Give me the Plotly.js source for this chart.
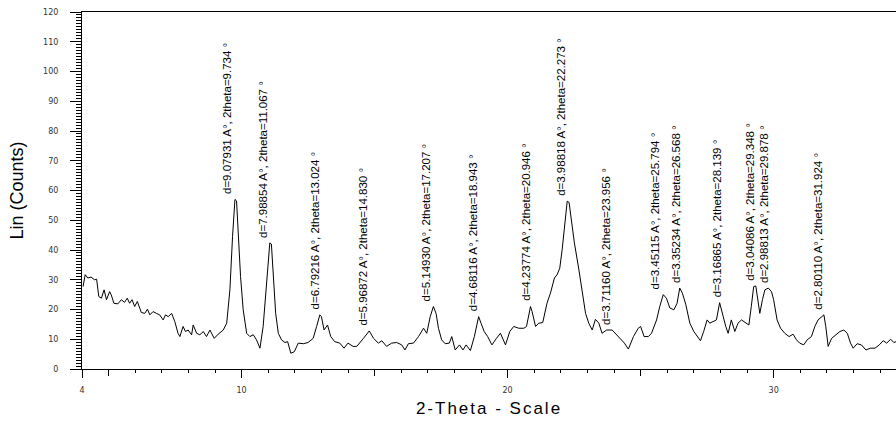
<!DOCTYPE html>
<html>
<head>
<meta charset="utf-8">
<script src="https://cdn.plot.ly/plotly-3.0.1.min.js"></script>
<style>
html,body{margin:0;padding:0;background:#fff;}
#chart{width:896px;height:421px;}
.xtitle{letter-spacing:2px;}
</style>
</head>
<body>
<div id="chart"></div>
<script>
// 2-Theta (degrees)
const theta = [4.04,4.12,4.22,4.34,4.47,4.55,4.63,4.73,4.83,4.92,5.04,5.1,5.2,5.35,5.48,5.6,5.7,5.79,5.88,5.98,6.08,6.23,6.36,6.46,6.55,6.67,6.8,6.92,7.05,7.14,7.24,7.37,7.49,7.61,7.68,7.8,7.89,7.99,8.12,8.18,8.31,8.43,8.56,8.68,8.81,8.97,9.12,9.31,9.44,9.56,9.66,9.75,9.81,9.87,9.96,10.06,10.19,10.31,10.44,10.56,10.69,10.81,10.94,11.06,11.12,11.19,11.28,11.38,11.5,11.63,11.73,11.85,11.98,12.13,12.32,12.5,12.69,12.82,12.94,13.0,13.1,13.23,13.35,13.5,13.69,13.85,14.0,14.19,14.33,14.58,14.8,14.96,15.14,15.27,15.45,15.64,15.83,16.02,16.14,16.27,16.46,16.65,16.84,16.96,17.09,17.21,17.31,17.4,17.52,17.65,17.81,17.9,18.03,18.19,18.32,18.44,18.6,18.75,18.91,19.0,19.12,19.25,19.41,19.58,19.73,19.92,20.08,20.23,20.42,20.61,20.71,20.86,20.92,21.05,21.17,21.32,21.48,21.61,21.76,21.86,21.96,22.05,22.14,22.24,22.31,22.4,22.51,22.68,22.8,22.93,23.05,23.18,23.3,23.43,23.55,23.72,23.93,24.05,24.24,24.39,24.54,24.73,24.91,25.0,25.13,25.29,25.41,25.6,25.72,25.85,25.97,26.1,26.25,26.37,26.47,26.57,26.7,26.85,27.0,27.12,27.25,27.37,27.5,27.6,27.72,27.85,27.97,28.07,28.2,28.29,28.41,28.54,28.66,28.79,28.95,29.07,29.16,29.25,29.33,29.41,29.48,29.58,29.67,29.8,29.92,30.0,30.13,30.26,30.42,30.58,30.73,30.86,30.98,31.13,31.26,31.42,31.55,31.67,31.8,31.89,31.96,32.05,32.18,32.34,32.49,32.64,32.77,32.89,32.99,33.14,33.3,33.47,33.64,33.81,33.97,34.12,34.25,34.4,34.52,34.6];
// Lin (Counts)
const counts = [27.7,31.7,30.6,30.9,30.0,30.2,24.4,23.8,26.6,23.3,26.0,24.9,22.1,21.9,23.3,22.4,23.8,22.1,23.3,21.0,22.7,19.0,18.7,20.1,18.2,19.3,18.7,18.2,16.5,18.2,17.6,18.7,15.9,12.0,10.9,14.3,12.6,13.1,11.5,14.8,12.0,11.5,12.6,10.9,13.1,10.3,11.7,13.1,15.4,26.6,44.6,57.0,56.5,46.9,31.1,19.9,12.0,10.9,11.5,9.8,7.0,14.3,27.7,42.4,42.0,30.0,18.7,12.0,9.8,8.9,9.2,5.3,5.8,8.7,8.5,8.9,10.3,14.3,18.2,17.6,13.1,14.8,10.9,9.2,8.7,7.0,8.7,7.6,7.6,10.3,12.8,10.3,8.7,9.5,7.6,8.7,8.9,8.1,6.4,8.5,8.7,10.9,13.7,12.0,17.6,21.0,18.7,13.7,9.8,8.5,8.7,10.9,6.4,8.1,6.4,8.1,6.2,10.9,17.6,15.4,12.6,10.9,8.1,10.3,12.0,8.1,12.6,14.3,13.7,13.7,14.3,21.0,19.3,14.3,15.4,15.6,22.1,25.5,30.6,31.7,33.9,40.1,49.1,56.4,56.0,50.2,42.4,33.3,26.6,18.7,15.4,13.1,16.7,15.4,12.0,13.1,13.1,12.0,10.3,8.7,6.7,10.9,13.7,14.3,10.9,10.9,12.0,16.5,21.0,25.0,23.8,20.5,19.9,22.1,27.2,25.5,21.6,15.4,12.6,10.9,9.5,12.6,16.5,15.4,16.0,16.5,22.3,18.7,14.3,12.0,16.5,12.6,15.4,16.5,15.4,14.8,21.0,27.7,27.9,23.3,18.7,23.3,26.6,27.2,26.0,23.3,16.5,13.7,12.0,10.9,11.7,9.8,8.7,8.1,9.8,10.9,14.3,16.5,17.6,18.2,14.3,7.6,10.3,11.5,12.6,13.1,12.0,8.7,7.0,8.5,8.1,6.4,7.0,7.0,8.1,9.5,8.7,10.0,8.9,9.2];
// peak labels
const peakTheta = ["9.734","11.067","13.024","14.830","17.207","18.943","20.946","22.273","23.956","25.794","26.568","28.139","29.348","29.878","31.924"];
const peakD = ["9.07931","7.98854","6.79216","5.96872","5.14930","4.68116","4.23774","3.98818","3.71160","3.45115","3.35234","3.16865","3.04086","2.98813","2.80110"];
const xTickVals = [4,10,20,30];

function localMax(t){
  let m = 0;
  for (let i=0;i<theta.length;i++){
    if (Math.abs(theta[i]-t)<=0.2 && counts[i]>m) m = counts[i];
  }
  return m;
}

const annotations = peakTheta.map((t,i)=>({
  x: parseFloat(t), xref:'x',
  y: localMax(parseFloat(t)) + 1.5, yref:'y',
  text: 'd=' + peakD[i] + ' A°, 2theta=' + t + ' °',
  textangle: -90,
  xanchor: 'right', yanchor: 'bottom',
  showarrow: false,
  borderpad: 0,
  font: {family: 'Arial, "Liberation Sans", sans-serif', size: 11.5, color: '#000'}
}));

const data = [
  {x: theta, y: counts, type: 'scatter', mode: 'lines',
   line: {color: '#000', width: 1}, hoverinfo: 'skip', showlegend: false},
  {x: [], y: [], xaxis: 'x2', type: 'scatter', mode: 'lines', showlegend: false}
];

const tickFont = {family: '"DejaVu Sans", sans-serif', size: 8, color: '#333'};
const layout = {
  width: 896, height: 421,
  margin: {l: 82, r: 0, t: 12, b: 52},
  paper_bgcolor: '#fff', plot_bgcolor: '#fff',
  showlegend: false,
  xaxis: {
    range: [4, 34.6], showgrid: false, zeroline: false,
    showline: true, linecolor: '#000', linewidth: 1, mirror: true,
    tickmode: 'array', tickvals: xTickVals, ticktext: xTickVals.map(String),
    ticks: 'outside', ticklen: 8, tickcolor: '#000', tickwidth: 1,
    ticklabelstandoff: 5,
    tickfont: tickFont,
    minor: {dtick: 1, tick0: 4, ticks: 'outside', ticklen: 3, tickcolor: '#000', showgrid: false},
    title: {text: '2-Theta - Scale', font: {family: 'Arial, "Liberation Sans", sans-serif', size: 17, color: '#000'}, standoff: 8}
  },
  xaxis2: {
    range: [4, 34.6], overlaying: 'x', anchor: 'y', side: 'bottom',
    showgrid: false, zeroline: false, showline: false,
    tickmode: 'array', tickvals: [5,15,25], ticks: 'outside', ticklen: 6,
    tickcolor: '#000', showticklabels: false
  },
  yaxis: {
    range: [0, 120], showgrid: false, zeroline: false,
    showline: true, linecolor: '#000', linewidth: 1, mirror: false,
    dtick: 10, tick0: 0, ticks: 'outside', ticklen: 11, tickcolor: '#000',
    ticklabelstandoff: 10,
    tickfont: tickFont,
    minor: {dtick: 1, ticks: 'outside', ticklen: 5, tickcolor: '#000', showgrid: false},
    title: {text: 'Lin (Counts)', font: {family: 'Arial, "Liberation Sans", sans-serif', size: 18, color: '#000'}, standoff: 14}
  },
  annotations: annotations
};

Plotly.newPlot('chart', data, layout, {displayModeBar: false, staticPlot: true});
</script>
</body>
</html>
